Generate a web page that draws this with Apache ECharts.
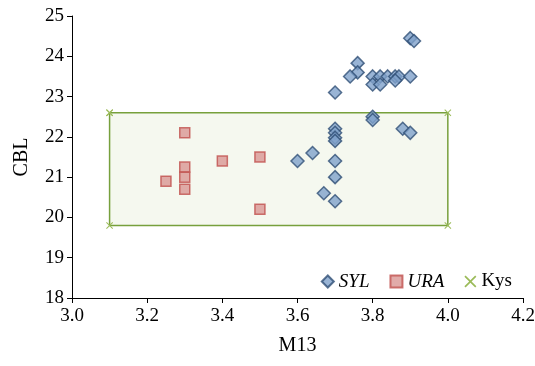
<!DOCTYPE html>
<html>
<head>
<meta charset="utf-8">
<script src="https://cdn.jsdelivr.net/npm/echarts@6/dist/echarts.min.js"></script>
<style>
  html, body { margin: 0; padding: 0; background: #fff; }
  #main { width: 535px; height: 366px; }
</style>
</head>
<body>
<div id="main"></div>
<script>
// SYL (diamonds)
var sylX = [3.90, 3.91, 3.76, 3.76, 3.74, 3.80, 3.82, 3.84, 3.86, 3.87, 3.86, 3.90, 3.80, 3.82, 3.70,
            3.80, 3.80, 3.70, 3.70, 3.70, 3.70, 3.88, 3.90, 3.64, 3.60, 3.70, 3.70, 3.67, 3.70];
var sylY = [24.45, 24.38, 23.83, 23.6, 23.5, 23.5, 23.5, 23.5, 23.5, 23.5, 23.4, 23.5, 23.3, 23.3, 23.1,
            22.5, 22.42, 22.2, 22.1, 21.98, 21.9, 22.2, 22.1, 21.6, 21.4, 21.4, 21.0, 20.6, 20.4];
// URA (squares)
var uraX = [3.30, 3.30, 3.30, 3.30, 3.25, 3.40, 3.50, 3.50];
var uraY = [22.1, 21.25, 21.0, 20.7, 20.9, 21.4, 21.5, 20.2];
// Kys (range box)
var kysX = [3.1, 4.0, 4.0, 3.1, 3.1];
var kysY = [22.6, 22.6, 19.8, 19.8, 22.6];

function pairs(xs, ys) {
    var out = [];
    for (var i = 0; i < xs.length; i++) out.push([xs[i], ys[i]]);
    return out;
}

var xMark = 'path://M0,1L1,0L5,4L9,0L10,1L6,5L10,9L9,10L5,6L1,10L0,9L4,5Z';
var font = 'Liberation Serif';

var chart = echarts.init(document.getElementById('main'));
var option = {
    animation: false,
    textStyle: { fontFamily: font },
    grid: { left: 72, right: 12, top: 16, bottom: 68, outerBoundsMode: 'none' },
    legend: {
        right: 18,
        top: 267,
        itemGap: 20,
        itemWidth: 12,
        itemHeight: 12,
        textStyle: { fontFamily: font, fontSize: 19, color: '#000' },
        data: [
            { name: 'SYL', textStyle: { fontStyle: 'italic' } },
            { name: 'URA', textStyle: { fontStyle: 'italic' } },
            { name: 'Kys', icon: xMark, itemStyle: { color: '#9bbb59' } }
        ]
    },
    xAxis: {
        type: 'value',
        min: 3.0,
        max: 4.2,
        interval: 0.2,
        name: 'M13',
        nameLocation: 'middle',
        nameGap: 38,
        nameTextStyle: { fontFamily: font, fontSize: 20, color: '#000' },
        axisLine: { show: true, lineStyle: { color: '#000', width: 1 } },
        axisTick: { show: true, inside: false, length: 5, lineStyle: { color: '#000' } },
        axisLabel: {
            fontFamily: font, fontSize: 19, color: '#000', margin: 9,
            formatter: function (v) { return v.toFixed(1); }
        },
        splitLine: { show: false }
    },
    yAxis: {
        type: 'value',
        min: 18,
        max: 25,
        interval: 1,
        name: 'CBL',
        nameLocation: 'middle',
        nameGap: 40,
        nameTextStyle: { fontFamily: font, fontSize: 20, color: '#000' },
        axisLine: { show: true, lineStyle: { color: '#000', width: 1 } },
        axisTick: { show: true, inside: false, length: 5, lineStyle: { color: '#000' } },
        axisLabel: { fontFamily: font, fontSize: 19, color: '#000', margin: 8 },
        splitLine: { show: false }
    },
    series: [
        {
            name: 'Kys',
            type: 'line',
            data: pairs(kysX, kysY),
            symbol: xMark,
            symbolSize: 7,
            showSymbol: true,
            lineStyle: { color: '#77a03c', width: 1.5 },
            itemStyle: { color: '#9bbb59' },
            z: 1,
            markArea: {
                silent: true,
                itemStyle: { color: '#f5f8ef' },
                data: [[{ coord: [kysX[0], kysY[0]] }, { coord: [kysX[2], kysY[2]] }]]
            }
        },
        {
            name: 'URA',
            type: 'scatter',
            data: pairs(uraX, uraY),
            symbol: 'rect',
            symbolSize: 10,
            itemStyle: { color: '#d99694', borderColor: '#c0504d', borderWidth: 1.5 },
            z: 3
        },
        {
            name: 'SYL',
            type: 'scatter',
            data: pairs(sylX, sylY),
            symbol: 'diamond',
            symbolSize: 13,
            itemStyle: { color: '#7fa1cb', borderColor: '#2f4f75', borderWidth: 1.5 },
            z: 4
        }
    ]
};
chart.setOption(option);

window.onresize = function () {
    chart.resize();
};
</script>
</body>
</html>
